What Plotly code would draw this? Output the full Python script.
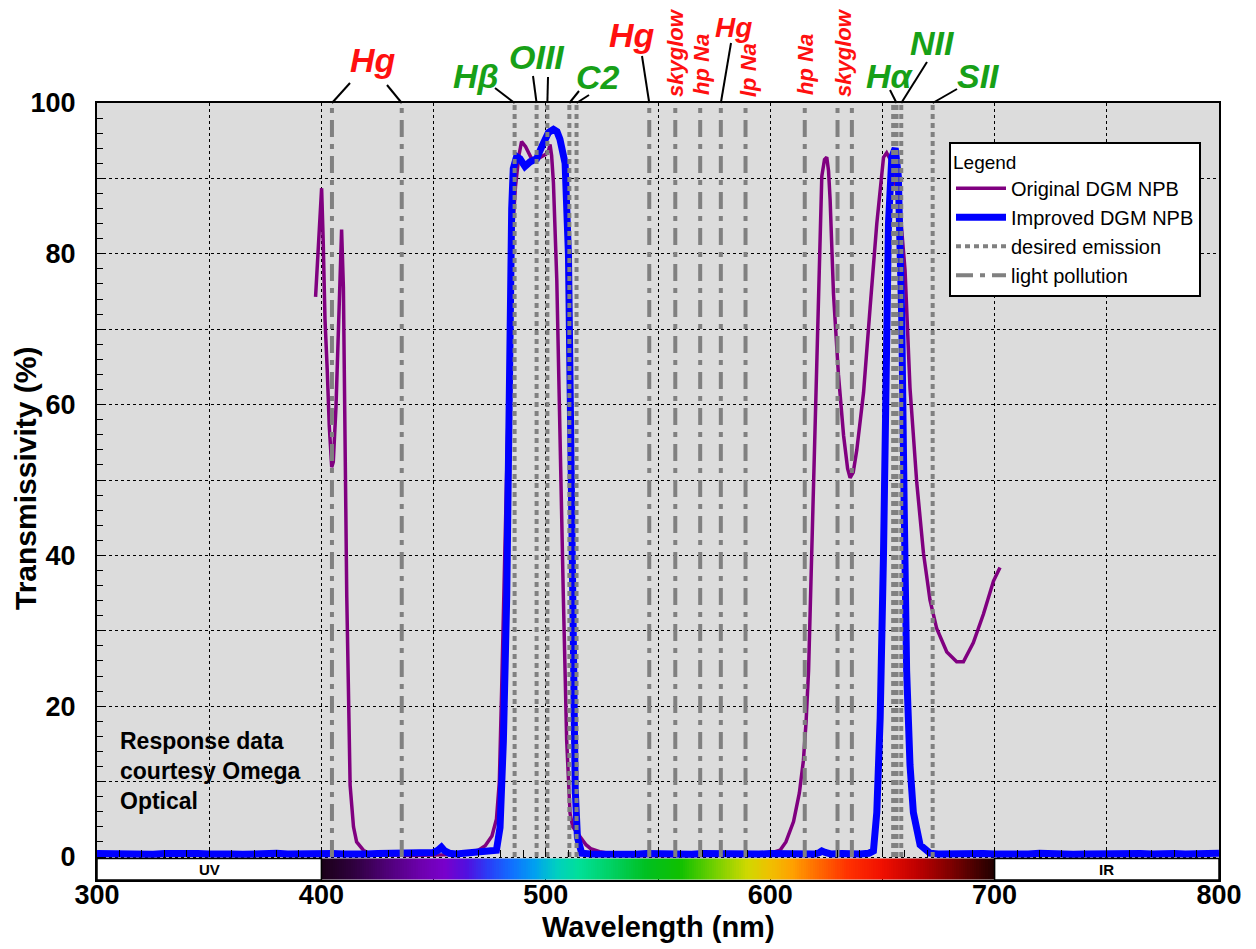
import plotly.graph_objects as go

# ---------------- data ----------------
orig_wl = [397.4, 398.6, 400.1, 400.8, 401.6, 402.6, 403.5, 404.6, 405.3, 406.5, 407.5, 408.3, 409.0,
           409.8, 410.2, 410.8, 411.3, 412.0, 412.8, 414.3, 415.7, 418.7, 420.5, 425, 440, 455, 462,
           466, 470, 473, 476, 478, 479.3, 480.3, 481.8, 482.8, 483.8, 485.0, 486.5, 488.0, 489.2,
           491.0, 493.7, 496.0, 498.2, 500.0, 501.2, 501.9, 502.6, 503.4, 504.9, 506.3, 507.8, 509.3,
           510.8, 512.0, 514.0, 516.0, 518.0, 520.0, 524.0, 530, 540, 560, 580, 590, 595, 600, 604.4,
           607, 610.4, 613, 614.8, 616, 617.1, 618.5, 620.0, 621.5, 623.0, 624.2, 625.2, 626.0, 626.7,
           628.2, 630.4, 632.7, 634.5, 635.6, 637.0, 638.6, 641.6, 644.5, 647.5, 650.5, 651.9, 653.5,
           655.5, 657.8, 659.0, 660.1, 662.3, 665.3, 668.3, 671.2, 674.2, 678.7, 683.1, 686.1, 690.5,
           695.0, 699.5, 702.4]
orig_T = [74.3, 81.7, 88.7, 81.7, 71.3, 64.6, 57.2, 51.7, 52.4, 59.7, 69.5, 78.7, 83.2,
          75.6, 61.5, 47.5, 34.6, 23.0, 9.5, 4.0, 2.0, 0.9, 0.6, 0.3, 0.2, 0.3, 0.4,
          0.6, 0.9, 1.5, 2.8, 5.0, 10.0, 21.9, 41.0, 55.0, 70.0, 82.0, 89.0, 93.0, 94.9,
          94.2, 92.6, 92.5, 92.9, 93.2, 93.6, 94.5, 93.0, 89.4, 76.5, 54.0, 34.8, 15.5,
          5.8, 4.0, 3.2, 2.5, 1.6, 1.1, 0.7, 0.4, 0.2, 0.2, 0.2, 0.25, 0.35, 0.5, 0.9,
          2.0, 4.7, 8.5, 12.8, 18.0, 24.7, 40.3, 59.0, 77.8, 90.3, 92.5, 92.8, 91.0, 87.2,
          74.7, 64.0, 55.9, 51.5, 50.3, 51.0, 54.0, 61.6, 72.8, 84.0, 92.8, 93.4, 92.5,
          90.0, 86.0, 82.0, 77.8, 62.2, 49.7, 40.3, 34.1, 30.3, 27.2, 25.9, 25.9, 28.4,
          32.2, 36.6, 38.4]

impr_wl = [300, 305, 310, 315, 320, 325, 330, 335, 340, 345, 350, 355, 360, 365, 370, 375, 380,
           385, 390, 395, 400, 405, 410, 415, 420, 425, 430, 435, 440, 445, 450, 452, 453.5, 455,
           457, 460, 464, 467, 470, 474, 478, 479.6, 481.1, 482.6, 483.3, 484.1, 484.8, 485.5, 487.0,
           488.5, 490.7, 493.0, 495.9, 498.2, 501.2, 503.4, 505.0, 506.3, 508.6, 510.1, 510.8, 511.6,
           512.3, 513.1, 514.1, 516, 520, 525, 530, 535, 540, 545, 550, 555, 560, 565, 570, 575, 580,
           585, 590, 595, 600, 605, 610, 615, 620, 622, 623, 624.5, 627, 632, 636, 640, 644, 646,
           647.5, 649.0, 650.5, 651.6, 652.7, 654.2, 655.7, 657.1, 658.6, 659.7, 660.8, 662.3, 663.8,
           666.8, 671.2, 675, 680, 685, 690, 695, 700, 705, 710, 715, 720, 725, 730, 735, 740, 745,
           750, 755, 760, 765, 770, 775, 780, 785, 790, 795, 800]
impr_T = [0.45, 0.4, 0.5, 0.4, 0.45, 0.35, 0.45, 0.5, 0.4, 0.45, 0.4, 0.5, 0.4, 0.35, 0.45, 0.4, 0.5,
          0.4, 0.45, 0.4, 0.35, 0.45, 0.4, 0.5, 0.4, 0.45, 0.5, 0.4, 0.45, 0.5, 0.6, 0.9, 1.3, 0.8,
          0.5, 0.4, 0.5, 0.8, 0.7, 0.9, 0.9, 3.9, 15.4, 34.7, 54.0, 73.0, 86.0, 91.3, 92.9,
          92.6, 91.6, 92.2, 92.6, 94.2, 96.1, 96.5, 96.2, 95.2, 92.0, 79.8, 60.5, 41.2,
          21.9, 9.0, 2.6, 0.5, 0.4, 0.35, 0.45, 0.4, 0.35, 0.45, 0.4, 0.5, 0.4, 0.35, 0.45, 0.4, 0.4,
          0.45, 0.35, 0.4, 0.45, 0.4, 0.35, 0.45, 0.4, 0.6, 0.8, 0.6, 0.4, 0.45, 0.35, 0.4, 0.5, 0.8,
          5.9, 18.4, 40.3, 65.3, 84.0, 92.8, 94.0, 90.3, 71.6, 46.6, 24.7, 12.2, 5.9,
          1.6, 0.5, 0.4, 0.45, 0.35, 0.4, 0.45, 0.4, 0.35, 0.45, 0.4, 0.5, 0.4, 0.45, 0.35, 0.4, 0.45,
          0.4, 0.5, 0.4, 0.45, 0.4, 0.5, 0.45, 0.4, 0.5, 0.45, 0.5]

desired_wl = [486.1, 495.9, 500.7, 510.5, 513.7, 654.8, 656.3, 658.4, 672.4]
pollution_wl = [404.7, 435.8, 546.1, 557.7, 568.8, 578.0, 589.0, 615.4, 630.0, 636.4]

x_tick_vals = [300, 350, 400, 450, 500, 550, 600, 650, 700, 750, 800]
x_tick_text = ["300", "", "400", "", "500", "", "600", "", "700", "", "800"]
y_tick_vals = [0, 10, 20, 30, 40, 50, 60, 70, 80, 90, 100]
y_tick_text = ["0", "", "20", "", "40", "", "60", "", "80", "", "100"]

spectrum_wl = [400, 415, 430, 445, 455, 465, 475, 485, 495, 505, 515, 530, 545, 560, 575, 590,
               600, 610, 620, 635, 650, 665, 680, 700]
spectrum_col = ["#1a0018", "#300040", "#50007a", "#6e00b0", "#7800cc", "#5010e0", "#2840f8",
                "#1070ff", "#00a0f0", "#00d0c0", "#00e098", "#00d060", "#00c020", "#10c000",
                "#70d000", "#d0d800", "#f0c000", "#ffa000", "#ff7000", "#ff3000", "#f01000",
                "#c00000", "#800000", "#200000"]

# ---------------- layout geometry (page pixels) ----------------
W, H = 1256, 949
OFF = 8                      # page body margin of the html
L, R, T, B = 97, 1219, 103, 880
XMIN, XMAX = 300, 800
YMIN, YMAX = -3.05, 100
BAR_TOP = -0.2


def px2wl(px):
    return XMIN + (px - L) / (R - L) * (XMAX - XMIN)


def px2paper(px):
    return (px - L) / (R - L)


def py2paper(py):
    return (B - py) / (B - T)


RED = "#ff1010"
GREEN = "#17a017"
GRAY = "#808080"
FONT = "Liberation Sans, Arial, sans-serif"

fig = go.Figure()

# spectrum bar
n = 300
fig.add_trace(go.Heatmap(
    z=[[400 + (i + 0.5) for i in range(n)]], x0=400.5, dx=1,
    y0=(YMIN + BAR_TOP) / 2, dy=BAR_TOP - YMIN,
    zmin=400, zmax=700, showscale=False, hoverinfo="skip",
    colorscale=[[(w - 400) / 300, c] for w, c in zip(spectrum_wl, spectrum_col)],
))

fig.add_trace(go.Scatter(x=orig_wl, y=orig_T, mode="lines", name="Original DGM NPB",
                         line=dict(color="#800080", width=3.5)))
fig.add_trace(go.Scatter(x=impr_wl, y=impr_T, mode="lines", name="Improved DGM NPB",
                         line=dict(color="#0000ff", width=7)))


def vlines(wls):
    xs, ys = [], []
    for w in wls:
        xs += [w, w, None]
        ys += [0, 100, None]
    return xs, ys


dx_, dy_ = vlines(desired_wl)
fig.add_trace(go.Scatter(x=dx_, y=dy_, mode="lines", name="desired emission",
                         line=dict(color=GRAY, width=4, dash="5px,4px")))
px_, py_ = vlines(pollution_wl)
fig.add_trace(go.Scatter(x=px_, y=py_, mode="lines", name="light pollution",
                         line=dict(color=GRAY, width=4, dash="17px,7px,5px,7px")))

# invisible trace to carry the tick axis at y = 0
fig.add_trace(go.Scatter(x=[XMIN, XMAX], y=[None, None], xaxis="x2", showlegend=False,
                         hoverinfo="skip"))

shapes = []
for x0, x1 in [(300, 400), (700, 800)]:
    shapes.append(dict(type="rect", xref="x", yref="y", x0=x0, x1=x1, y0=YMIN, y1=BAR_TOP,
                       fillcolor="white", line=dict(color="black", width=1.5), layer="above"))

# leader lines: (line wavelength, top x px, top y px)
leaders = [(404.7, 350, 83), (435.8, 387, 85), (486.1, 495, 88), (495.9, 533, 76),
           (500.7, 548, 77), (510.5, 579, 91), (513.7, 589, 95), (546.1, 642, 56),
           (578.0, 731, 43), (656.3, 890, 90), (658.4, 927, 62), (672.4, 957, 89)]
for w, tx, ty in leaders:
    shapes.append(dict(type="line", xref="x", yref="paper", x0=w, y0=1.0,
                       x1=px2wl(tx), y1=py2paper(ty), line=dict(color="black", width=2)))

annotations = []
labels = [("Hg", 373, 60, RED, 34, 0), ("Hβ", 476, 76, GREEN, 34, 0),
          ("OIII", 537, 57, GREEN, 34, 0), ("C2", 598, 77, GREEN, 34, 0),
          ("Hg", 632, 35, RED, 34, 0), ("skyglow", 675, 53, RED, 22, -90),
          ("hp Na", 701, 65, RED, 22, -90), ("Hg", 733, 27, RED, 28, 0),
          ("lp Na", 748, 70, RED, 22, -90), ("hp Na", 805, 65, RED, 22, -90),
          ("skyglow", 843, 53, RED, 22, -90), ("Hα", 890, 76, GREEN, 34, 0),
          ("NII", 932, 43, GREEN, 34, 0), ("SII", 978, 76, GREEN, 34, 0)]
for txt, lx, ly, col, sz, ang in labels:
    annotations.append(dict(text="<b><i>%s</i></b>" % txt, x=px2wl(lx), y=py2paper(ly),
                            xref="x", yref="paper", showarrow=False, textangle=ang,
                            xanchor="center", yanchor="middle", borderpad=0,
                            font=dict(family=FONT, size=sz, color=col)))

for txt, xc in [("UV", 350), ("IR", 750)]:
    annotations.append(dict(text="<b>%s</b>" % txt, x=xc, y=(YMIN + BAR_TOP) / 2, xref="x", yref="y",
                            showarrow=False, font=dict(family=FONT, size=15, color="black")))

annotations.append(dict(text="<b>Response data<br>courtesy Omega<br>Optical</b>",
                        x=px2paper(118), y=py2paper(771), xref="paper", yref="paper",
                        xanchor="left", yanchor="middle", align="left", showarrow=False,
                        font=dict(family=FONT, size=23, color="black")))

# axis titles
annotations.append(dict(text="<b>Transmissivity (%)</b>", x=px2paper(25), y=py2paper(478),
                        xref="paper", yref="paper", textangle=-90, showarrow=False,
                        xanchor="center", yanchor="middle",
                        font=dict(family=FONT, size=30, color="black")))
annotations.append(dict(text="<b>Wavelength (nm)</b>", x=px2paper(658), y=py2paper(927),
                        xref="paper", yref="paper", showarrow=False,
                        xanchor="center", yanchor="middle",
                        font=dict(family=FONT, size=29, color="black")))

fig.update_layout(
    width=W, height=H,
    margin=dict(l=L - OFF, r=W - (R - OFF), t=T - OFF, b=H - (B - OFF), autoexpand=False),
    paper_bgcolor="white", plot_bgcolor="#dcdcdc",
    font=dict(family=FONT, color="black"),
    showlegend=True,
    legend=dict(x=px2paper(949), y=py2paper(142), xanchor="left", yanchor="top",
                bgcolor="white", bordercolor="black", borderwidth=2,
                font=dict(family=FONT, size=20, color="black"),
                title=dict(text="Legend", font=dict(family=FONT, size=19, color="black")),
                tracegroupgap=0, itemwidth=50),
    xaxis=dict(range=[XMIN, XMAX], tickvals=x_tick_vals, ticktext=x_tick_text,
               showgrid=True, gridcolor="black", griddash="dot", gridwidth=1,
               showline=True, linecolor="black", linewidth=2, mirror=True,
               ticks="", zeroline=False, ticklabelstandoff=-10,
               tickfont=dict(family=FONT, size=27, color="black", weight="bold")),
    xaxis2=dict(range=[XMIN, XMAX], overlaying="x", anchor="free", position=-YMIN / (YMAX - YMIN),
                side="bottom", showgrid=False, showline=False, zeroline=False,
                showticklabels=False, ticks="inside", ticklen=7, tickwidth=1, tickcolor="black",
                tickvals=list(range(310, 800, 10))),
    yaxis=dict(range=[YMIN, YMAX], tickvals=y_tick_vals, ticktext=y_tick_text,
               showgrid=True, gridcolor="black", griddash="dot", gridwidth=1,
               showline=True, linecolor="black", linewidth=2, mirror=True,
               ticks="inside", ticklen=8, tickwidth=1, tickcolor="black", zeroline=False,
               ticklabelstandoff=14,
               minor=dict(tickvals=[v for v in range(2, 100, 2) if v % 10], ticks="inside",
                          ticklen=6, tickwidth=1, tickcolor="black", showgrid=False),
               tickfont=dict(family=FONT, size=27, color="black", weight="bold")),
    shapes=shapes, annotations=annotations,
)

fig.write_html("out.html")
